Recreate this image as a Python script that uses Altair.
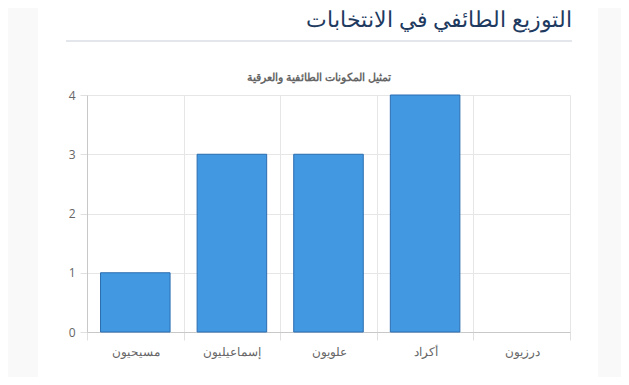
import altair as alt
import pandas as pd

categories = ["مسيحيون", "إسماعيليون", "علويون", "أكراد", "درزيون"]
counts = [1, 3, 3, 4, 0]
y_ticks = [0, 1, 2, 3, 4]
heading = "التوزيع الطائفي في الانتخابات"
chart_title = "تمثيل المكونات الطائفية والعرقية"

df = pd.DataFrame({"category": categories, "count": counts})
one = alt.Data(values=[{}])

W, H = 483, 237
FONT = "Open Sans"

side_l = alt.Chart(one).mark_rect(color="#f9f9f9").encode(
    x=alt.value(-79), x2=alt.value(-49), y=alt.value(-87), y2=alt.value(H + 45)
)
side_r = alt.Chart(one).mark_rect(color="#f9f9f9").encode(
    x=alt.value(511), x2=alt.value(W + 51), y=alt.value(-87), y2=alt.value(H + 45)
)

bars = alt.Chart(df).mark_bar(
    width=alt.RelativeBandSize(0.72), color="#4299e1", stroke="#2b6cb0", strokeWidth=1
).encode(
    x=alt.X("category:N", sort=None, title=None,
            scale=alt.Scale(paddingInner=0, paddingOuter=0),
            axis=alt.Axis(labelAngle=0, tickBand="extent", grid=True, gridColor="#e6e6e6",
                          domainColor="#c8c8c8", tickColor="#e0e0e0", tickSize=8,
                          labelColor="#666666", labelFontSize=12, labelFont=FONT,
                          labelPadding=6)),
    y=alt.Y("count:Q", title=None,
            scale=alt.Scale(domain=[0, 4], nice=False),
            axis=alt.Axis(values=y_ticks, format="d", grid=True, gridColor="#e6e6e6",
                          domainColor="#c8c8c8", tickColor="#e0e0e0", tickSize=7,
                          labelColor="#666666", labelFontSize=12, labelFont=FONT,
                          labelPadding=5)),
    strokeOpacity=alt.condition(alt.datum.count > 0, alt.value(1), alt.value(0)),
)

head_text = alt.Chart(one).mark_text(
    text=heading, align="right", baseline="middle", fontSize=22,
    color="#1e3a5f", font=FONT
).encode(x=alt.value(485), y=alt.value(-75))

head_rule = alt.Chart(one).mark_rule(color="#e3e6ea", strokeWidth=2).encode(
    x=alt.value(-21), x2=alt.value(485), y=alt.value(-54)
)

sub_text = alt.Chart(one).mark_text(
    text=chart_title, align="center", baseline="middle", fontSize=11, fontWeight="bold",
    color="#666666", font=FONT
).encode(x=alt.value(232), y=alt.value(-17))

chart = alt.layer(side_l, side_r, bars, head_rule, head_text, sub_text).properties(
    width=W, height=H,
    autosize=alt.AutoSizeParams(type="none"),
    padding={"left": 79, "top": 87, "right": 51, "bottom": 45},
    background="white",
).configure_view(stroke=None)

chart.save("out.html", embed_options={"renderer": "svg", "actions": False})
